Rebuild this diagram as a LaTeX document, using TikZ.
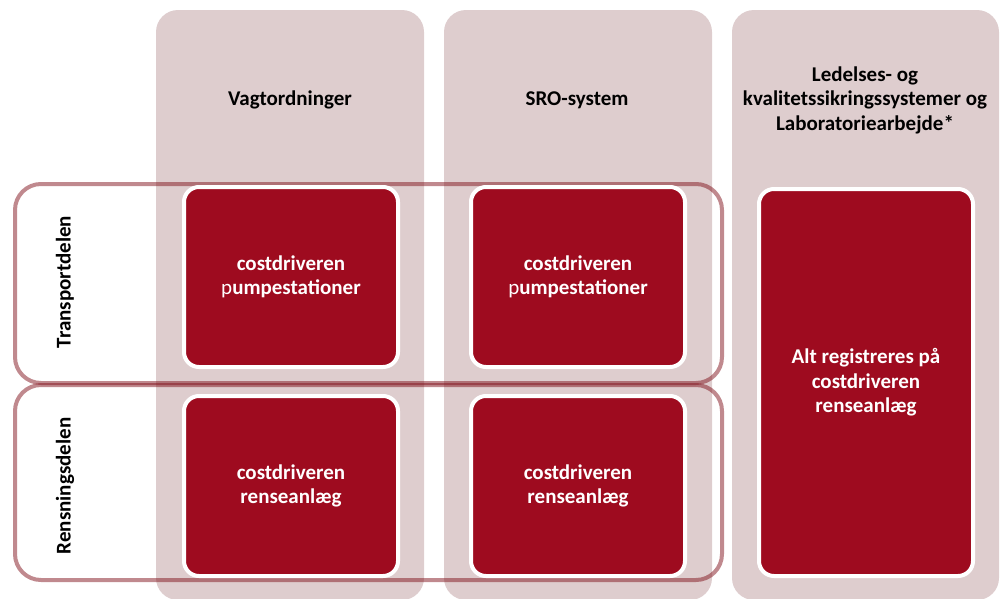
\documentclass[tikz,border=0pt]{standalone}
\usepackage{fontspec}
\setmainfont{Carlito}
\usepackage{xcolor}
\definecolor{colbg}{HTML}{DECDCE}
\definecolor{costred}{HTML}{9E0B1F}
\definecolor{framered}{RGB}{130,20,30}

\begin{document}
\begin{tikzpicture}[x=1pt,y=-1pt,
    column/.style={fill=colbg, rounded corners=22pt, inner sep=0pt,
        minimum width=268pt, minimum height=590pt},
    head/.style={font=\bfseries\fontsize{21}{24.5}\selectfont, align=center},
    rowframe/.style={draw=framered, draw opacity=.5, line width=4pt,
        rounded corners=26pt, inner sep=0pt, minimum width=707pt},
    rowlabel/.style={font=\bfseries\fontsize{21}{24.5}\selectfont, rotate=90},
    costbox/.style={fill=costred, draw=white, line width=4pt, rounded corners=15pt,
        inner sep=0pt, minimum width=214pt, text=white, align=center,
        font=\bfseries\fontsize{21}{24.5}\selectfont}]
    \useasboundingbox (0,0) rectangle (1005,598);

    % columns
    \node[column] (vagt) at (290,305) {};
    \node[column] (sro) at (578,305) {};
    \node[column, minimum width=267pt] (led) at (865.5,305) {};

    \node[head] (vagthead) at (290,100) {Vagtordninger};
    \node[head] (srohead) at (577,100) {SRO-system};
    \node[head] (ledhead) at (865,100) {Ledelses- og\\kvalitetssikringssystemer og\\Laboratoriearbejde*};

    % rows
    \node[rowframe, minimum height=199pt] (transport) at (368.5,283.5) {};
    \node[rowframe, minimum height=195pt] (rensning) at (368.5,482.5) {};

    \node[rowlabel] (transportlabel) at (65,282) {Transportdelen};
    \node[rowlabel] (rensninglabel) at (65,486) {Rensningsdelen};

    % cost drivers
    \node[costbox, minimum height=180pt] (vagtpumpe) at (291,277) {costdriveren\\{\mdseries p}umpestationer};
    \node[costbox, minimum height=180pt] (vagtrense) at (291,486) {costdriveren\\renseanlæg};
    \node[costbox, minimum height=180pt] (sropumpe) at (578,277) {costdriveren\\{\mdseries p}umpestationer};
    \node[costbox, minimum height=180pt] (srorense) at (578,486) {costdriveren\\renseanlæg};
    \node[costbox, minimum height=387pt] (ledrense) at (866,382.5) {Alt registreres på\\costdriveren\\renseanlæg};
\end{tikzpicture}
\end{document}
